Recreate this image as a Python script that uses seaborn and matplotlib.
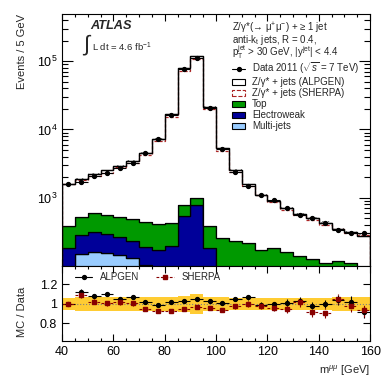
import numpy as np
import pandas as pd
import matplotlib
matplotlib.use("Agg")
import matplotlib.pyplot as plt
import matplotlib.ticker as mticker
from matplotlib.patches import Patch
from matplotlib.lines import Line2D
import seaborn as sns

# -------------------------
# Datos
# -------------------------
edges = np.arange(40, 161, 5)
centers = edges[:-1] + 2.5

data_counts = [1567, 1686, 2052, 2284, 2726, 3233, 4471, 7303, 16275, 75950, 111640, 20756,
               5218, 2408, 1467, 1105, 910, 707, 553, 508, 432, 331, 308, 305]
zjets_alpgen = [1182, 1382, 1630, 1955, 2349, 2982, 4124, 6818, 16179, 77227, 116000, 21015,
                5010, 2305, 1352, 923, 723, 552, 428, 374, 322, 227, 203, 183]
zjets_sherpa = [1182, 1321, 1511, 1743, 2245, 2763, 3789, 6343, 14682, 71304, 107179, 19520,
                4634, 2108, 1252, 911, 692, 509, 420, 341, 283, 230, 190, 190]
top = [204, 234, 279, 263, 259, 264, 244, 241, 225, 234, 210, 200,
       200, 180, 165, 126, 141, 125, 108, 95, 82, 92, 89, 74]
ewk = [111, 131, 149, 137, 125, 98, 90, 121, 156, 509, 760, 160,
       40, 35, 30, 27, 24, 22, 20, 18, 16, 14, 12, 11]
multijet = [70, 150, 162, 157, 143, 131, 102, 50, 40, 30, 30, 25,
            20, 20, 20, 18, 16, 15, 14, 12, 11, 11, 11, 10]
mc_stat_rel = [0.03, 0.03, 0.03, 0.03, 0.03, 0.03, 0.025, 0.025, 0.02, 0.015, 0.015, 0.02,
               0.025, 0.03, 0.03, 0.03, 0.035, 0.035, 0.04, 0.04, 0.04, 0.045, 0.045, 0.05]

alpgen_err = [0.02, 0.025, 0.02, 0.02, 0.02, 0.02, 0.015, 0.015, 0.01, 0.01, 0.01, 0.01,
              0.015, 0.02, 0.025, 0.025, 0.03, 0.035, 0.04, 0.04, 0.045, 0.05, 0.055, 0.06]
sherpa_err = [0.02, 0.03, 0.025, 0.025, 0.025, 0.025, 0.02, 0.02, 0.015, 0.01, 0.01, 0.015,
              0.02, 0.025, 0.03, 0.03, 0.035, 0.04, 0.045, 0.05, 0.05, 0.055, 0.06, 0.065]
syst_rel = [0.06, 0.07, 0.07, 0.07, 0.075, 0.075, 0.075, 0.07, 0.075, 0.085, 0.105, 0.075,
            0.07, 0.065, 0.065, 0.06, 0.06, 0.06, 0.06, 0.06, 0.065, 0.07, 0.07, 0.07]

process_names = ["Z/γ* + jets (ALPGEN)", "Top", "Electroweak", "Multi-jets"]
process_colors = ["white", "#009900", "#000099", "#99ccff"]

header_lines = [r"Z/γ*(→ μ$^{+}$μ$^{-}$) + ≥ 1 jet",
                r"anti-k$_{\mathrm{t}}$ jets, R = 0.4,",
                r"p$_{\mathrm{T}}^{\mathrm{jet}}$ > 30 GeV, |y$^{\mathrm{jet}}$| < 4.4"]

# -------------------------
# Estilo
# -------------------------
sns.set_style("ticks")
plt.rcParams["font.family"] = ["Liberation Sans", "DejaVu Sans"]
plt.rcParams["mathtext.fontset"] = "custom"
plt.rcParams["mathtext.rm"] = "Liberation Sans"
plt.rcParams["mathtext.it"] = "Liberation Sans:italic"
plt.rcParams["mathtext.bf"] = "Liberation Sans:bold"
plt.rcParams["hatch.color"] = "0.3"
plt.rcParams["hatch.linewidth"] = 0.6

small = 7.0

bkg = np.array(top) + np.array(ewk) + np.array(multijet)
alpgen_total = np.array(zjets_alpgen) + bkg
sherpa_total = np.array(zjets_sherpa) + bkg
data = np.array(data_counts, dtype=float)

fig = plt.figure(figsize=(3.9, 3.83), dpi=100)
ax = fig.add_axes([0.159, 0.3055, 0.79, 0.658])
ax2 = fig.add_axes([0.159, 0.1104, 0.79, 0.1951])

# -------------------------
# Panel principal
# -------------------------
df = pd.DataFrame({
    "mass": np.tile(centers, 4),
    "events": np.concatenate([zjets_alpgen, top, ewk, multijet]),
    "process": np.repeat(process_names, len(centers)),
})
sns.histplot(data=df, x="mass", weights="events", hue="process", hue_order=process_names,
             bins=edges.tolist(), multiple="stack", element="step", palette=process_colors,
             edgecolor="black", linewidth=0.9, alpha=1, legend=False, ax=ax)

ax.stairs(alpgen_total * (1 + np.array(mc_stat_rel)), edges,
          baseline=alpgen_total * (1 - np.array(mc_stat_rel)),
          fill=True, facecolor="none", edgecolor="0.3", hatch="//////", linewidth=0)
ax.stairs(sherpa_total, edges, color="#aa2222", linestyle=(0, (2.5, 1.5)), linewidth=0.9)
ax.stairs(alpgen_total, edges, color="black", linewidth=0.9)
ax.errorbar(centers, data, xerr=2.5, fmt="o", ms=2.8, color="black", lw=0.8, capsize=0)

ax.set_yscale("log")
ax.set_xlim(40, 160)
ax.set_ylim(100, 4.9e5)
ax.set_yticks([1e3, 1e4, 1e5])
ax.xaxis.set_major_locator(mticker.MultipleLocator(20))
ax.xaxis.set_minor_locator(mticker.MultipleLocator(5))
ax.tick_params(axis="x", labelbottom=False)
ax.set_xlabel("")
ax.set_ylabel("Events / 5 GeV", fontsize=8, loc="top")
ax.yaxis.set_label_coords(-0.114, 1.0)

ax.text(0.092, 0.952, "ATLAS", transform=ax.transAxes, fontsize=9.2, fontweight="bold",
        fontstyle="italic", va="center")
ax.text(0.066, 0.876, r"$\int$", transform=ax.transAxes, fontsize=16, va="center")
ax.text(0.098, 0.867, r"L dt = 4.6 fb$^{-1}$", transform=ax.transAxes, fontsize=6.8,
        va="center")

# bloque de cabecera en un solo texto de varias líneas
ax.text(0.551, 0.973, "\n".join(header_lines), transform=ax.transAxes,
        fontsize=small, va="top", linespacing=0.72)

handles = [
    Line2D([], [], color="black", marker="o", ms=2.8, lw=0.8),
    Patch(facecolor="white", edgecolor="black", linewidth=0.8),
    Patch(facecolor="white", edgecolor="#aa2222", linestyle="--", linewidth=0.8),
    Patch(facecolor="#009900", edgecolor="black", linewidth=0.8),
    Patch(facecolor="#000099", edgecolor="black", linewidth=0.8),
    Patch(facecolor="#99ccff", edgecolor="black", linewidth=0.8),
]
labels = [r"Data 2011 ($\sqrt{s}$ = 7 TeV)", "Z/γ* + jets (ALPGEN)", "Z/γ* + jets (SHERPA)",
          "Top", "Electroweak", "Multi-jets"]
ax.legend(handles, labels, loc="upper left", bbox_to_anchor=(0.552, 0.815), fontsize=small,
          frameon=False, handlelength=1.35, handleheight=0.55, handletextpad=0.7,
          labelspacing=0.1, borderaxespad=0, borderpad=0)

# -------------------------
# Panel de cociente
# -------------------------
alpgen_ratio = alpgen_total / data
sherpa_ratio = sherpa_total / data
ax2.stairs(1 + np.array(syst_rel), edges, baseline=1 - np.array(syst_rel), fill=True,
           color="#ffcc33", linewidth=0)
ax2.axhline(1, color="0.5", ls=":", lw=0.8)
ax2.errorbar(centers, alpgen_ratio, xerr=2.5, yerr=alpgen_err, fmt="o", ms=2.8,
             color="black", lw=0.8, capsize=0)
sh = ax2.errorbar(centers, sherpa_ratio, xerr=2.5, yerr=sherpa_err, fmt="s", ms=2.8,
                  color="#880000", lw=0.8, capsize=0)
for coll in sh[2]:
    coll.set_linestyle((0, (2.5, 1.5)))

ax2.set_xlim(40, 160)
ax2.set_ylim(0.62, 1.39)
ax2.set_yticks([0.8, 1.0, 1.2])
ax2.yaxis.set_major_formatter(mticker.FuncFormatter(lambda v, p: f"{v:g}"))
ax2.xaxis.set_major_locator(mticker.MultipleLocator(20))
ax2.xaxis.set_minor_locator(mticker.MultipleLocator(5))
ax2.set_ylabel("MC / Data", fontsize=8)
ax2.yaxis.set_label_coords(-0.114, 0.38)
ax2.set_xlabel(r"m$^{\mu\mu}$ [GeV]", fontsize=8, loc="right")
ax2.xaxis.set_label_coords(1.0, -0.30)

rhandles = [Line2D([], [], color="black", marker="o", ms=2.8, lw=0.8),
            Line2D([], [], color="#880000", marker="s", ms=2.8, lw=0.8, ls=(0, (2.5, 1.5)))]
ax2.legend(rhandles, ["ALPGEN", "SHERPA"], loc="center left", bbox_to_anchor=(0.042, 0.853),
           ncol=2, fontsize=small, frameon=False, handlelength=1.8, handletextpad=0.8,
           columnspacing=1.7, borderaxespad=0, borderpad=0)

for a in (ax, ax2):
    a.tick_params(which="both", direction="in", top=True, right=True, labelsize=9,
                  width=0.8, colors="black")
    a.tick_params(which="major", length=5)
    a.tick_params(which="minor", length=2.5)
    for s in a.spines.values():
        s.set_linewidth(0.8)
        s.set_color("black")
ax.tick_params(axis="y", which="major", length=8)
ax.tick_params(axis="y", which="minor", length=4)

fig.savefig("out.png", dpi=100)
